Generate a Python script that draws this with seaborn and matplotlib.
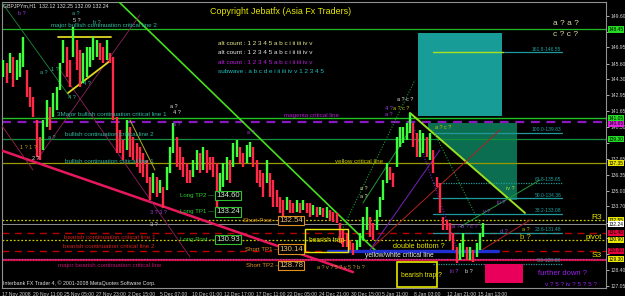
import numpy as np
import pandas as pd
import matplotlib
matplotlib.use("Agg")
import matplotlib.pyplot as plt
import matplotlib.transforms as mtransforms
from matplotlib.patches import Rectangle, Polygon
import seaborn as sns

# ---------------- data ----------------
highs = [145.91, 145.66, 146.49, 146.16, 145.91, 146.49, 147.82, 145.07, 143.65, 142.82,
         140.90, 139.48, 140.90, 142.57, 141.99, 143.15, 143.65, 145.66, 147.57, 146.99,
         145.91, 148.66, 147.57, 146.74, 146.49, 146.99, 146.99, 147.82, 147.57, 147.32,
         146.99, 147.57, 146.49, 146.16, 141.15, 140.07, 139.23, 140.90, 140.32, 139.48,
         138.98, 138.65, 138.15, 137.57, 136.15, 136.48, 136.15, 135.90, 135.31, 136.98,
         138.65, 140.65, 139.48, 138.65, 137.82, 137.32, 136.73, 137.57, 138.40, 138.15,
         138.65, 138.40, 137.82, 137.82, 137.32, 136.48, 137.32, 137.82, 137.57, 138.98,
         139.23, 138.65, 138.15, 138.82, 139.07, 138.65, 137.57, 136.73, 136.48, 137.57,
         136.48, 135.90, 135.06, 134.48, 134.23, 134.48, 134.23, 133.98, 134.23, 133.98,
         134.23, 133.98, 133.98, 133.81, 133.65, 133.65, 133.56, 133.65, 133.40, 133.23,
         133.15, 132.31, 131.73, 131.48, 130.89, 130.64, 130.89, 131.48, 132.81, 133.65,
         132.81, 132.31, 133.40, 134.48, 135.90, 137.32, 136.98, 136.48, 139.48, 140.32,
         140.32, 140.65, 141.49, 140.65, 139.82, 140.07, 139.82, 139.48, 139.82, 138.40,
         136.15, 135.65, 132.81, 132.56, 132.31, 131.48, 130.31, 130.64, 131.48, 130.31,
         130.31, 130.06, 130.64, 131.48, 132.31]
lows = [144.49, 143.99, 144.82, 143.65, 144.24, 144.49, 145.32, 142.82, 141.99, 141.15,
        137.82, 137.57, 138.40, 140.32, 140.07, 141.15, 141.74, 143.40, 145.66, 144.49,
        143.65, 146.16, 145.07, 143.65, 143.99, 144.49, 145.32, 145.91, 146.16, 145.91,
        145.66, 145.91, 145.66, 140.90, 138.15, 138.15, 137.57, 138.40, 137.82, 137.57,
        136.98, 136.48, 136.15, 135.65, 134.23, 134.81, 134.48, 134.81, 133.56, 135.06,
        136.48, 138.15, 136.98, 136.73, 136.15, 135.65, 135.65, 136.15, 136.73, 136.48,
        136.73, 136.48, 136.73, 136.15, 133.15, 134.48, 135.31, 135.90, 135.65, 136.98,
        137.82, 137.32, 136.98, 137.32, 137.82, 136.98, 135.65, 135.31, 134.48, 135.65,
        134.48, 133.65, 133.65, 133.15, 132.81, 133.40, 133.15, 133.15, 133.23, 133.15,
        133.40, 133.15, 132.81, 132.98, 132.81, 132.98, 132.81, 132.73, 132.56, 132.40,
        132.31, 130.64, 130.31, 130.31, 130.06, 129.64, 130.06, 130.31, 130.89, 131.73,
        131.14, 130.89, 131.73, 132.81, 134.23, 135.65, 135.90, 135.31, 136.98, 138.65,
        138.98, 139.23, 139.82, 138.65, 137.82, 137.82, 138.15, 137.82, 137.57, 136.48,
        135.31, 133.15, 131.73, 131.73, 130.89, 130.06, 128.98, 129.23, 129.48, 129.23,
        129.23, 129.06, 129.48, 130.06, 131.14]

y_ticks = [149.60, 148.25, 146.95, 145.60, 144.30, 142.95, 141.65, 140.30, 139.00,
           137.65, 136.35, 135.00, 133.70, 132.35, 131.05, 129.70, 128.40, 127.05]
# tick labels hidden in the reference behind the coloured level labels
y_hidden = [148.25, 139.00, 132.35, 131.05, 129.70]
x_tick_bars = [-0.39, 8.9, 18.2, 27.8, 37.4, 47.0, 56.6, 66.2, 75.8, 85.1, 94.7,
               104.3, 113.6, 123.2, 133.1, 142.4]
x_tick_labels = ["17 Nov 2008", "20 Nov 11:00", "25 Nov 05:00", "27 Nov 23:00",
                 "2 Dec 15:00", "5 Dec 07:00", "10 Dec 01:00", "12 Dec 17:00",
                 "17 Dec 11:00", "22 Dec 05:00", "24 Dec 21:00", "30 Dec 15:00",
                 "5 Jan 11:00", "8 Jan 03:00", "12 Jan 21:00", "15 Jan 13:00"]

level_prices = [148.45, 141.05, 140.70, 139.30, 137.30, 132.55, 132.24, 131.48, 130.90, 130.00, 129.22]
level_labels = ["148.45", "141.05", "140.65", "139.30", "137.35", "132.55", "132.24", "131.48", "130.90", "130.00", "129.30"]

fib_pcts = ["161.8", "100.0", "61.8", "50.0", "38.2", "23.6", "0.0"]
fib_prices = [146.55, 139.83, 135.65, 134.36, 133.08, 131.48, 128.90]

long_names = ["Long TP2", "Long TP1", "Long Post"]
long_prices = [134.60, 133.24, 130.93]
short_names = ["Short Post", "Short TP1", "Short TP2"]
short_prices = [132.54, 130.14, 128.78]

# ---------------- style ----------------
sns.set_theme(style="dark", rc={"axes.facecolor": "black", "figure.facecolor": "black",
                                "savefig.facecolor": "black", "axes.grid": False})
plt.rcParams['font.family'] = ['Liberation Sans', 'DejaVu Sans']

fig = plt.figure(figsize=(6.25, 2.96), dpi=100)
ax = fig.add_axes([2 / 625, 8 / 296, 604 / 625, 286 / 296])
ax.set_facecolor("black")
ax.set_xlim(-0.39, 180.81)
ax.set_ylim(126.89, 150.74)

df = pd.DataFrame({"bar": np.arange(len(highs)), "high": highs, "low": lows})
df["mid"] = (df.high + df.low) / 2
up = df["mid"].diff().fillna(0) >= 0
colors = np.where(up, "#3cff3c", "#ff2a48")

# ---------------- zones / boxes behind ----------------
ax.add_patch(Rectangle((124.4, 141.23), 25.2, 6.93, fc="#179c98", ec="none", zorder=1))
ax.add_patch(Rectangle((127.4, 134.23), 26.7, 6.40, fc="#0c6e50", ec="none", zorder=1))
ax.add_patch(Polygon([(127.4, 140.18), (152.0, 134.23), (127.4, 134.23)], closed=True,
                     fc="black", ec="none", zorder=1.1))

# ---------------- horizontal levels ----------------
lv_styles = [
    dict(color="#22b822", lw=0.9, ls="-"),
    dict(color="#22c022", lw=1.0, ls="-"),
    dict(color="#8a18c0", lw=1.6, ls=(0, (4, 3))),
    dict(color="#129040", lw=0.9, ls="-"),
    dict(color="#9a9a00", lw=0.9, ls="-"),
    dict(color="#c8c800", lw=0.9, ls=(0, (1.5, 1.5))),
    dict(color="#909090", lw=0.7, ls="-"),
    dict(color="#b80000", lw=1.0, ls=(0, (5, 4))),
    dict(color="#c8c800", lw=0.9, ls=(0, (1.5, 1.5))),
    dict(color="#c00000", lw=1.0, ls=(0, (5, 4))),
    dict(color="#d01040", lw=1.6, ls="-"),
]
for p, st in zip(level_prices, lv_styles):
    ax.axhline(p, zorder=2, **st)
ax.axhline(129.30, color="#a050d0", lw=0.8, ls=(0, (1, 1.5)), zorder=2.1)

lab_bg = ["#22dd22", "#22dd22", "#e020e0", "#22dd22", "#e8e800", "#e8e800", "#ffffff",
          "#e8003a", "#e8e800", "#e8003a", "#e8e800"]
lab_pos = [148.45, 141.05, 140.60, 139.30, 137.30, 132.55, 132.20, 131.48, 130.90, 130.00, 129.30]
bt = mtransforms.blended_transform_factory(ax.transAxes, ax.transData)
for p, t, c in zip(lab_pos, level_labels, lab_bg):
    ax.text(1.004, p, t, transform=bt, fontsize=3.5, color="black", va="center", ha="left",
            bbox=dict(boxstyle="square,pad=0.12", fc=c, ec="none"), clip_on=False, zorder=12)

# ---------------- fibonacci lines ----------------
fib_ls = ["-", "-", (0, (1, 1)), "-", "-", "-", (0, (1, 1))]
for pct, p, ls in zip(fib_pcts, fib_prices, fib_ls):
    ax.plot([128.9, 167.6], [p, p], color="#1f9a9a", lw=0.9, ls=ls, zorder=2.5)
    ax.text(167.4, p + 0.05, f"{pct}-{p:.2f}", color="#1fa0a0", fontsize=3.6,
            ha="right", va="bottom", zorder=6)
ax.plot([128.9, 149.9], [146.55, 146.55], color="#a8e020", lw=1.0, zorder=2.6)

# ---------------- diagonal lines ----------------
segs = [
    ((34.1, 150.91), (112.4, 129.81), "#44e01c", 1.2, "-"),
    ((122.0, 141.49), (156.5, 133.15), "#9ae020", 1.4, "-"),
    ((-0.99, 138.40), (104.9, 128.22), "#e8185e", 1.8, "-"),
    ((-1.0, 150.91), (20.0, 142.82), "#1c8a3a", 0.6, "-"),
    ((-1.0, 140.65), (8.9, 136.73), "#a02050", 0.6, "-"),
    ((10.1, 137.57), (41.0, 149.66), "#902060", 0.6, "-"),
    ((17.0, 145.07), (56.0, 129.48), "#902060", 0.6, "-"),
    ((16.4, 147.82), (32.3, 147.82), "#e0d820", 1.3, "-"),
    ((19.4, 143.15), (32.0, 145.82), "#e0d820", 1.3, "-"),
    ((38.0, 140.90), (45.5, 136.73), "#b0b020", 0.7, "-"),
    ((100.1, 130.89), (123.5, 144.24), "#1c9a3a", 0.8, (0, (1, 1.5))),
    ((107.9, 133.98), (122.0, 140.07), "#1c9a3a", 0.7, "-"),
    ((110.0, 130.06), (131.0, 138.40), "#7a20c0", 0.7, "-"),
    ((110.9, 130.31), (149.0, 140.07), "#b02020", 0.7, "-"),
    ((122.0, 141.15), (137.0, 129.48), "#7a20c0", 0.8, (0, (1, 1.5))),
    ((128.9, 140.07), (143.9, 131.73), "#1c9a3a", 0.8, (0, (1, 1.5))),
    ((137.0, 131.98), (161.0, 135.90), "#1c9a3a", 0.7, "-"),
    ((142.1, 129.81), (158.0, 132.56), "#b02020", 0.7, "-"),
]
for (x0, y0), (x1, y1), c, lw, ls in segs:
    ax.plot([x0, x1], [y0, y1], color=c, lw=lw, ls=ls, zorder=2.8)

# blue yellow/white critical line
ax.plot([97.4, 148.4], [129.98, 129.98], color="#2030d0", lw=2.4, zorder=2.9)

# ---------------- candles ----------------
ax.vlines(df["bar"], df["low"], df["high"], colors=colors, lw=1.7, zorder=4)

# ---------------- boxes on top ----------------
ax.add_patch(Rectangle((90.5, 129.89), 12.9, 1.92, fc="none", ec="#e8e800", lw=1.0, zorder=5))
ax.add_patch(Rectangle((118.1, 126.97), 12.0, 2.09, fc="none", ec="#e8e800", lw=1.2, zorder=5))
ax.add_patch(Rectangle((144.5, 127.31), 11.4, 1.58, fc="#e8005a", ec="none", zorder=5))

# ---------------- texts ----------------
def T(x, y, s, c, fs=4.3, **kw):
    ax.text(x, y, s, color=c, fontsize=fs, va="center", ha=kw.pop("ha", "left"), zorder=7, **kw)

T(-0.1, 150.41, "GBPJPYm,H1  132.12 132.25 132.09 132.24", "#e0e0e0", 3.8)
T(-0.1, 127.31, "Interbank FX Trader 4, \u00a9 2001-2008 MetaQuotes Software Corp.", "#e0e0e0", 3.8)
T(62.0, 149.91, "Copyright Jebatfx (Asia Fx Traders)", "#e8e800", 6.4)
T(64.4, 147.24, "alt count : 1 2 3 4 5 a b c i ii iii iv v", "#e8e890", 4.6)
T(64.4, 146.49, "alt count : 1 2 3 4 5 a b c i ii iii iv v", "#e8e8e8", 4.6)
T(64.4, 145.66, "alt count : 1 2 3 4 5 a b c i ii iii iv v", "#c020e0", 4.6)
T(64.4, 144.91, "subwave : a b c d e i ii iii iv v 1 2 3 4 5", "#20c0c0", 4.6)

T(14.3, 148.74, "major bullish continuation critical line 2", "#30b8a0", 4.5)
T(16.1, 141.32, "3Major bullish continuation critical line 1", "#30b8a0", 4.5)
T(18.5, 139.65, "bullish continuation critical line 2", "#30b8a0", 4.5)
T(18.5, 137.48, "bullish continuation critical line 1", "#30b8a0", 4.5)
T(84.2, 141.24, "magenta critical line", "#b020d0", 4.5)
T(99.5, 137.40, "yellow critical line", "#c8c800", 4.5)
T(18.2, 131.14, "bearish continuation critical line 1", "#d02020", 4.5)
T(17.9, 130.31, "bearish continuation critical line 2", "#d02020", 4.5)
T(16.4, 128.73, "major bearish continuation critical line", "#c01070", 4.5)

for n, p in zip(long_names, long_prices):
    T(53.0, p, n + " \u2014", "#30d030", 4.4)
    ax.text(67.4, p, f"{p:.2f}", color="#c8f0c8", fontsize=5.6, ha="center", va="center",
            zorder=8, bbox=dict(boxstyle="square,pad=0.15", fc="black", ec="#30c030", lw=0.8))
for n, p, xx in zip(short_names, short_prices, [71.9, 72.5, 72.8]):
    T(xx, p, n + " \u2014", "#e09020", 4.4)
    ax.text(86.3, p, f"{p:.2f}", color="#f0c070", fontsize=5.6, ha="center", va="center",
            zorder=8, bbox=dict(boxstyle="square,pad=0.15", fc="black", ec="#e09020", lw=0.8))

T(91.7, 130.89, "bearish trap", "#e8e800", 4.8)
T(119.3, 127.97, "bearish trap ?", "#e8e800", 4.8)
T(116.9, 130.31, "double bottom ?", "#e8e800", 5.2)
T(108.5, 129.56, "yellow/white critical line", "#e8e8e8", 4.8)
T(178.1, 132.81, "R3", "#e8e800", 6, ha="center")
T(177.2, 131.14, "pivot", "#e8e800", 5.5, ha="center")
T(178.1, 129.56, "S3", "#e8e800", 6, ha="center")
T(160.4, 128.06, "further down ?", "#9a20e8", 5.5)
T(162.5, 127.22, "v ? 5 ? iv ? 5 ? 5 ?", "#9a20e8", 4.6)
T(164.9, 148.91, "a ? a ?", "#d8d8a0", 6)
T(164.9, 147.99, "c ? c ?", "#d8d8a0", 6)

small = [
    (4.4, 149.82, "b ?", "#a040e0"), (20.6, 149.74, "a ?", "#30b8a0"),
    (20.9, 149.16, "5 ?", "#e0e0e0"), (26.9, 149.07, "b ?", "#30b8a0"),
    (11.0, 144.82, "a ?", "#30b8a0"), (14.3, 145.07, "1 ?", "#30b8a0"),
    (19.4, 142.74, "4 ?", "#30b8a0"), (23.9, 143.91, "4 ?", "#30b8a0"),
    (13.4, 139.48, "a ?", "#30b8a0"), (5.0, 138.57, "1 ? 1 ?", "#c0a020"),
    (8.6, 137.73, "2 ?", "#e0e0e0"), (44.0, 133.15, "3 ? 3 ?", "#a040e0"),
    (44.0, 132.15, "3 ?", "#e0e0e0"), (50.0, 141.99, "a ?", "#e0e0e0"),
    (50.9, 141.49, "4 ?", "#e0e0e0"), (50.9, 140.49, "a ?", "#a040e0"),
    (73.1, 139.82, "a ?", "#a040e0"), (107.0, 135.15, "a ?", "#e0e0b0"),
    (107.0, 134.48, "a ?", "#e0e0b0"), (118.1, 142.65, "a ? c ?", "#e0e0e0"),
    (114.5, 141.90, "4 ?", "#a040e0"), (116.9, 141.90, "a ? c ?", "#c8c800"),
    (114.5, 141.32, "a ?", "#a040e0"), (129.5, 140.24, "a ? c ?", "#c8c800"),
    (150.8, 135.15, "iv ?", "#b0e040"), (148.1, 134.06, "iii ?", "#a040e0"),
    (143.9, 133.23, "v ?", "#a040e0"), (134.6, 132.06, "a ? b ? c ?", "#a040e0"),
    (149.0, 131.56, "d ?", "#a040e0"), (155.6, 131.81, "a ?", "#c8c800"),
    (134.0, 128.23, "iii ?", "#a040e0"), (138.5, 128.23, "b ?", "#e0e0e0"),
    (94.1, 128.56, "a ? v ? 5 ? v 5 ? b ?", "#c0a020"),
]
for x, y, s, c in small:
    T(x, y, s, c, 4.0)
T(155.0, 131.06, "b ?", "#c8c800", 5.6)

# ---------------- axes ----------------
ax.yaxis.tick_right()
ax.set_yticks(y_ticks)
ax.set_yticklabels(["" if v in y_hidden else f"{v:.2f}" for v in y_ticks])
ax.set_xticks(x_tick_bars)
ax.set_xticklabels(x_tick_labels, ha="left")
ax.tick_params(axis="both", colors="#d0d0d0", labelsize=3.6, length=2, width=0.6, pad=1)
for s in ax.spines.values():
    s.set_color("#909090")
    s.set_linewidth(0.8)
ax.grid(False)

fig.savefig("out.png", dpi=100, facecolor="black")
